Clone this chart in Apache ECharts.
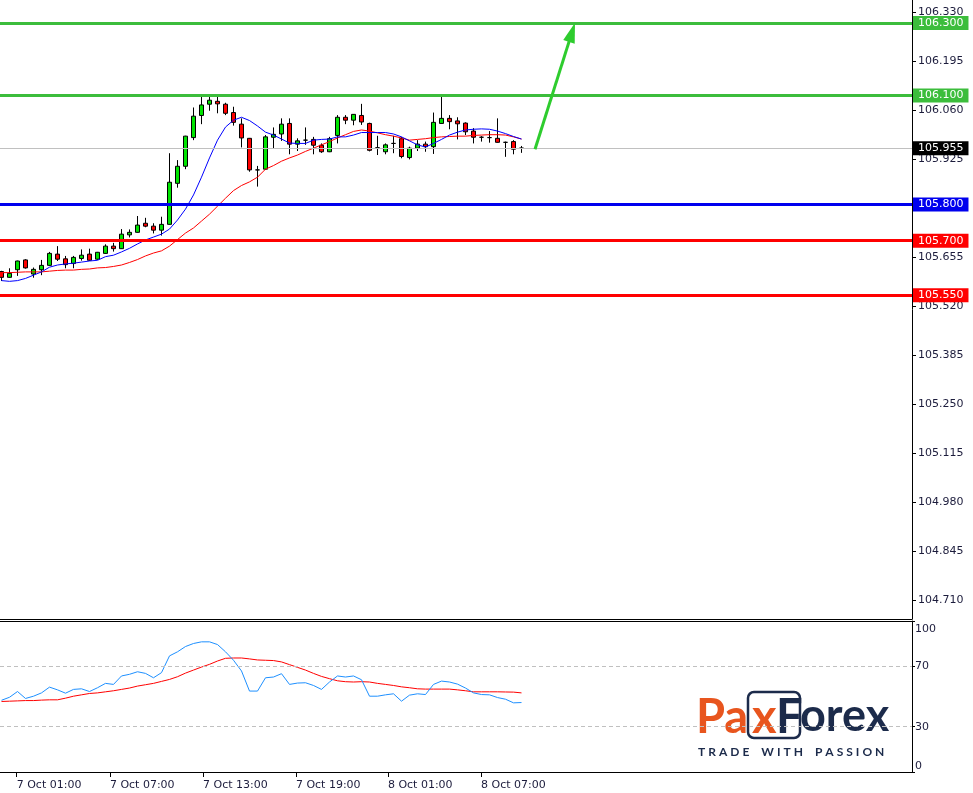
<!DOCTYPE html>
<html><head><meta charset="utf-8">
<script src="https://cdn.jsdelivr.net/npm/echarts@6/dist/echarts.min.js"></script>
<style>html,body{margin:0;padding:0;background:#fff;}#c{width:973px;height:793px;}</style>
</head><body><div id="c"></div>
<script>
// ---- data ----
const openP = [105.615,105.599,105.620,105.647,105.608,105.620,105.632,105.663,105.650,105.637,
105.651,105.663,105.649,105.665,105.685,105.678,105.716,105.723,105.748,105.740,
105.729,105.745,105.858,105.905,105.984,106.045,106.076,106.084,106.076,106.053,
106.021,105.982,105.895,105.897,105.985,105.994,106.023,105.966,105.977,105.979,
105.963,105.945,105.990,106.040,106.032,106.045,106.023,105.956,105.945,105.968,
105.981,105.929,105.955,105.966,105.959,106.023,106.037,106.030,106.024,106.002,
105.985,105.984,105.982,105.971,105.973,105.955];
const closeP = [105.599,105.610,105.644,105.625,105.621,105.632,105.665,105.649,105.634,105.654,
105.660,105.646,105.668,105.685,105.678,105.718,105.723,105.743,105.740,105.729,
105.745,105.861,105.905,105.988,106.043,106.074,106.087,106.077,106.051,106.026,
105.983,105.895,105.895,105.986,105.993,106.021,105.966,105.975,105.977,105.963,
105.945,105.981,106.040,106.032,106.048,106.027,105.949,105.956,105.964,105.968,
105.932,105.955,105.966,105.959,106.026,106.037,106.028,106.022,106.000,105.985,
105.985,105.984,105.971,105.971,105.952,105.955];
const lowP = [105.589,105.598,105.603,105.623,105.598,105.605,105.631,105.644,105.624,105.624,
105.645,105.644,105.647,105.664,105.670,105.677,105.709,105.722,105.737,105.720,
105.714,105.744,105.846,105.897,105.977,106.021,106.058,106.051,106.046,106.017,
105.957,105.890,105.849,105.895,105.955,105.975,105.938,105.947,105.964,105.938,
105.942,105.944,105.968,106.021,106.018,106.019,105.946,105.936,105.938,105.941,
105.927,105.924,105.947,105.945,105.939,106.022,106.007,105.979,105.991,105.968,
105.973,105.970,105.970,105.931,105.938,105.942];
const highP = [105.617,105.624,105.645,105.649,105.626,105.647,105.669,105.685,105.658,105.658,
105.676,105.678,105.669,105.690,105.694,105.732,105.731,105.768,105.763,105.748,
105.766,105.941,105.922,105.989,106.067,106.099,106.099,106.097,106.080,106.069,
106.037,105.983,105.906,105.991,106.012,106.037,106.037,105.982,106.012,105.986,
105.968,105.986,106.046,106.046,106.049,106.077,106.025,105.989,105.968,105.989,
105.986,105.959,105.977,105.973,106.053,106.099,106.046,106.040,106.026,106.010,
105.988,106.002,106.037,105.973,105.977,105.961];
const maFast = [105.590,105.588,105.590,105.596,105.605,105.614,105.627,105.633,105.636,105.638,
105.641,105.644,105.646,105.656,105.660,105.669,105.679,105.691,105.702,105.710,
105.718,105.732,105.757,105.787,105.826,105.875,105.928,105.977,106.013,106.032,
106.040,106.031,106.016,105.999,105.991,105.980,105.969,105.968,105.968,105.977,
105.979,105.980,105.986,105.986,105.991,105.998,105.998,105.998,105.998,105.994,
105.986,105.975,105.964,105.958,105.968,105.979,105.991,105.999,106.005,106.007,
106.008,106.007,106.002,105.995,105.987,105.980];
const maSlow = [105.612,105.612,105.613,105.614,105.614,105.614,105.616,105.618,105.619,105.619,
105.621,105.622,105.625,105.626,105.629,105.633,105.640,105.648,105.658,105.666,
105.672,105.685,105.703,105.721,105.735,105.754,105.773,105.795,105.817,105.838,
105.852,105.862,105.875,105.897,105.907,105.919,105.928,105.936,105.946,105.955,
105.964,105.973,105.983,105.992,106.001,106.005,106.002,105.997,105.992,105.988,
105.983,105.977,105.979,105.981,105.984,105.986,105.987,105.988,105.988,105.990,
105.991,105.992,105.992,105.991,105.986,105.980];
const oscMain = [47.5,49.5,53.3,48.7,50.2,52.4,56.2,54.4,52.2,54.7,
55.1,53.3,55.8,58.7,58.0,63.6,64.7,66.4,65.3,62.4,
65.8,76.9,79.6,83.1,85.1,86.2,86.2,84.4,79.6,74.0,
66.9,53.6,53.6,62.4,62.9,65.1,58.0,58.9,59.1,57.3,
54.7,59.6,63.6,62.9,63.6,61.1,50.2,50.2,51.1,51.8,
46.9,50.9,51.8,51.3,58.0,60.2,59.6,58.2,55.6,52.4,
51.3,51.1,49.3,48.2,45.8,46.0];
const oscSignal = [46.7,46.9,47.1,47.3,47.3,47.6,47.8,47.8,48.9,50.2,
51.1,52.0,52.4,53.1,53.8,54.7,55.6,56.9,57.8,58.7,
60.0,61.3,63.1,65.5,67.5,69.5,71.3,73.5,75.3,75.5,
75.5,74.9,74.2,74.0,73.8,72.9,71.1,69.3,67.5,65.3,
63.3,61.8,60.4,59.8,59.6,59.8,59.6,58.7,58.0,57.3,
56.4,55.8,55.1,54.9,54.9,54.9,54.9,54.4,53.8,53.1,
53.1,53.1,53.1,53.0,52.9,52.4];
const priceTicks = [104.710,104.845,104.980,105.115,105.250,105.385,105.520,105.655,105.790,105.925,106.060,106.195,106.330];
const oscTicks = [0,30,70,100];
const oscLevels = [30,70];
const timeLabelPos = [1.9,13.55,25.2,36.8,48.3,59.95];
const timeLabels = ['7 Oct 01:00','7 Oct 07:00','7 Oct 13:00','7 Oct 19:00','8 Oct 01:00','8 Oct 07:00'];
const levelValues = [106.300,106.100,105.800,105.700,105.550];
const lastPrice = 105.955;
const arrowFrom = [66.69,105.952];
const arrowTo = [71.31,106.274];

// ---- styles ----
const levelColors = ['#3cbd3c','#3cbd3c','#0000ee','#ff0000','#ff0000'];
const FONT = 'DejaVu Sans';
const TXT = '#1c1c3c';
const NAVY = '#1c2b4b', ORANGE = '#e8551e';
const X_MIN = -0.1875, X_MAX = 113.8125;
const Y_MIN = 104.6577, Y_MAX = 106.3631;

const candles = openP.map((o,i)=>{
  const v=[i,o,closeP[i],lowP[i],highP[i]];
  return o===closeP[i] ? {value:v,itemStyle:{color:'#000',color0:'#000',borderColor:'#000',borderColor0:'#000'}} : v;
});
const xy = arr => arr.map((v,i)=>[i,v]);

const boxLabel = (bg,val) => ({show:true,position:'end',distance:1,formatter:val.toFixed(3),
  color:'#fff',backgroundColor:bg,padding:[2,5,1,5],fontFamily:FONT,fontSize:11});

const tagline = 'TRADE WITH PASSION'.split(' ').map(w=>w.split('').join('\u2005')).join('\u2005\u2002\u2005');

const chart = echarts.init(document.getElementById('c'));
chart.setOption({
  animation:false,
  backgroundColor:'#fff',
  grid:[{left:0,right:61,top:0,height:619},{left:0,right:61,top:621,height:151}],
  xAxis:[
    {gridIndex:0,type:'value',min:X_MIN,max:X_MAX,axisLine:{show:true,onZero:false,lineStyle:{color:'#000'}},axisTick:{show:false},axisLabel:{show:false},splitLine:{show:false}},
    {gridIndex:1,type:'value',min:X_MIN,max:X_MAX,position:'bottom',
      axisLine:{show:true,onZero:false,lineStyle:{color:'#000'}},
      axisTick:{show:true,customValues:timeLabelPos,length:5,lineStyle:{color:'#000'}},
      axisLabel:{customValues:timeLabelPos,align:'left',margin:8,color:TXT,fontFamily:FONT,fontSize:11,
        formatter:v=>{let b=0;timeLabelPos.forEach((p,i)=>{if(Math.abs(p-v)<Math.abs(timeLabelPos[b]-v))b=i;});return timeLabels[b];}},
      splitLine:{show:false}},
    {gridIndex:1,type:'value',min:X_MIN,max:X_MAX,position:'top',axisLine:{show:true,onZero:false,lineStyle:{color:'#000'}},axisTick:{show:false},axisLabel:{show:false},splitLine:{show:false}}
  ],
  yAxis:[
    {gridIndex:0,type:'value',position:'right',min:Y_MIN,max:Y_MAX,
      axisLine:{show:true,onZero:false,lineStyle:{color:'#000'}},
      axisTick:{show:true,customValues:priceTicks,length:4,lineStyle:{color:'#000'}},
      axisLabel:{customValues:priceTicks,formatter:v=>Number(v).toFixed(3),color:TXT,fontFamily:FONT,fontSize:11,margin:6},
      splitLine:{show:false}},
    {gridIndex:1,type:'value',position:'right',min:0,max:100,
      axisLine:{show:true,onZero:false,lineStyle:{color:'#000'}},
      axisTick:{show:true,customValues:oscTicks,length:3,lineStyle:{color:'#000'}},
      axisLabel:{customValues:oscTicks,color:TXT,fontFamily:FONT,fontSize:11,margin:3,verticalAlignMinLabel:'bottom',verticalAlignMaxLabel:'top',padding:[3,0,0,0]},
      splitLine:{show:false}}
  ],
  series:[
    {type:'candlestick',xAxisIndex:0,yAxisIndex:0,encode:{x:0,y:[1,2,3,4]},data:candles,barWidth:5,
      itemStyle:{color:'#00e400',color0:'#ff0000',borderColor:'#000',borderColor0:'#000',borderWidth:1},
      markLine:{silent:true,symbol:'none',animation:false,precision:3,
        data:[
          {yAxis:lastPrice,lineStyle:{color:'#c0c0c0',width:1,type:'solid'},label:boxLabel('#000',lastPrice)},
          ...levelValues.map((v,i)=>({yAxis:v,lineStyle:{color:levelColors[i],width:3,type:'solid'},label:boxLabel(levelColors[i],v)}))
        ]}},
    {type:'line',xAxisIndex:0,yAxisIndex:0,data:xy(maSlow),showSymbol:false,lineStyle:{color:'#ff0000',width:1},z:3},
    {type:'line',xAxisIndex:0,yAxisIndex:0,data:xy(maFast),showSymbol:false,lineStyle:{color:'#0000ff',width:1},z:3,
      markLine:{silent:true,animation:false,precision:3,symbol:['none','triangle'],symbolSize:[12,20],
        lineStyle:{color:'#2ecc2e',width:3,type:'solid'},label:{show:false},
        data:[[{coord:arrowFrom},{coord:arrowTo}]]}},
    {type:'line',xAxisIndex:1,yAxisIndex:1,data:xy(oscSignal),showSymbol:false,lineStyle:{color:'#ff0000',width:1},
      markLine:{silent:true,animation:false,symbol:'none',label:{show:false},
        lineStyle:{color:'#c0c0c0',width:1,type:[4,3]},data:oscLevels.map(v=>({yAxis:v}))}},
    {type:'line',xAxisIndex:1,yAxisIndex:1,data:xy(oscMain),showSymbol:false,lineStyle:{color:'#1e90ff',width:1}}
  ],
  graphic:[
    {type:'text',left:696,top:694,style:{text:'Pa',font:'bold 47px Lato',fill:ORANGE}},
    {type:'rect',shape:{x:748,y:692,width:52,height:46,r:6},style:{fill:'none',stroke:NAVY,lineWidth:2.5}},
    {type:'text',left:752,top:694,style:{text:'x',font:'bold 47px Lato',fill:ORANGE}},
    {type:'text',left:776,top:694,style:{text:'F',font:'bold 47px Lato',fill:NAVY}},
    {type:'text',left:800,top:694,style:{text:'orex',font:'bold 45px Lato',fill:NAVY}},
    {type:'text',left:698,top:746,style:{text:tagline,font:'bold 12px Lato',fill:NAVY}}
  ]
});
</script></body></html>
